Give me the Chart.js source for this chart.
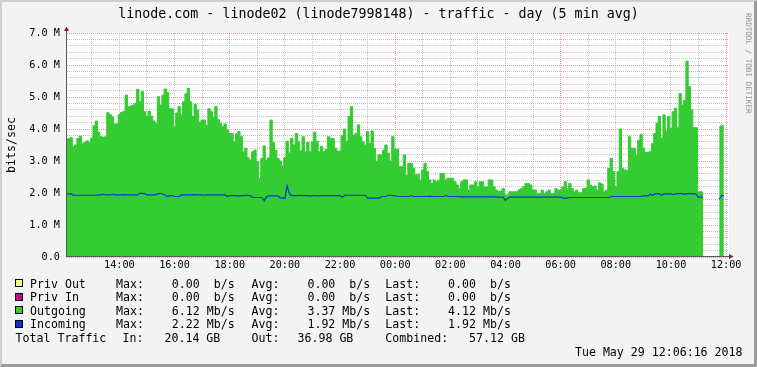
<!DOCTYPE html>
<html lang="en">
<head>
    <meta charset="UTF-8">
    <title>linode02 traffic - day</title>
    <script src="https://cdn.jsdelivr.net/npm/chart.js"></script>
    <style>
        body {
            margin: 0;
            background: #f3f3f3;
        }

        #wrap {
            position: relative;
            width: 757px;
            height: 367px;
            background: #f3f3f3;
            overflow: hidden;
        }

        #trafficChart {
            position: absolute;
            left: 0;
            top: 0;
        }

        .frame {
            position: absolute;
            left: 0;
            top: 0;
            width: 757px;
            height: 367px;
            box-sizing: border-box;
            border-style: solid;
            border-width: 2px 3px 3px 2px;
            border-color: #cfcfcf #9c9c9c #9c9c9c #cfcfcf;
            pointer-events: none;
        }

        .txt {
            position: absolute;
            font-family: "DejaVu Sans Mono", monospace;
            font-size: 11.6px;
            line-height: 14px;
            white-space: pre;
            color: #000;
        }

        .title {
            left: 0;
            width: 757px;
            top: 5.7px;
            text-align: center;
            font-size: 13.3px;
            line-height: 16px;
        }

        .ylabel {
            left: -29.5px;
            top: 138px;
            width: 80px;
            text-align: center;
            transform: rotate(-90deg);
        }

        .mark {
            left: 698px;
            top: 58px;
            width: 100px;
            text-align: center;
            font-size: 7.6px;
            line-height: 10px;
            color: #8e8e8e;
            transform: rotate(90deg);
        }

        .box {
            position: absolute;
            left: 15px;
            width: 8px;
            height: 8px;
            box-sizing: border-box;
            border: 1px solid #000;
        }
    </style>
</head>
<body>

<div id="wrap">
    <canvas id="trafficChart" width="757" height="367"></canvas>

    <div class="txt title">linode.com - linode02 (linode7998148) - traffic - day (5 min avg)</div>
    <div class="txt ylabel">bits/sec</div>
    <div class="txt mark">RRDTOOL / TOBI OETIKER</div>

    <div class="box" style="top:279px;background:#ffff99"></div>
    <div class="box" style="top:292.7px;background:#cc0099"></div>
    <div class="box" style="top:306.4px;background:#33cc33"></div>
    <div class="box" style="top:320px;background:#0033cc"></div>

    <div class="txt" style="left:30px;top:276.5px">Priv Out</div>
    <div class="txt" style="left:116px;top:276.5px">Max:    0.00  b/s</div>
    <div class="txt" style="left:251.6px;top:276.5px">Avg:    0.00  b/s</div>
    <div class="txt" style="left:385.3px;top:276.5px">Last:    0.00  b/s</div>

    <div class="txt" style="left:30px;top:290.2px">Priv In</div>
    <div class="txt" style="left:116px;top:290.2px">Max:    0.00  b/s</div>
    <div class="txt" style="left:251.6px;top:290.2px">Avg:    0.00  b/s</div>
    <div class="txt" style="left:385.3px;top:290.2px">Last:    0.00  b/s</div>

    <div class="txt" style="left:30px;top:303.8px">Outgoing</div>
    <div class="txt" style="left:116px;top:303.8px">Max:    6.12 Mb/s</div>
    <div class="txt" style="left:251.6px;top:303.8px">Avg:    3.37 Mb/s</div>
    <div class="txt" style="left:385.3px;top:303.8px">Last:    4.12 Mb/s</div>

    <div class="txt" style="left:30px;top:317.3px">Incoming</div>
    <div class="txt" style="left:116px;top:317.3px">Max:    2.22 Mb/s</div>
    <div class="txt" style="left:251.6px;top:317.3px">Avg:    1.92 Mb/s</div>
    <div class="txt" style="left:385.3px;top:317.3px">Last:    1.92 Mb/s</div>

    <div class="txt" style="left:15.6px;top:331.3px">Total Traffic</div>
    <div class="txt" style="left:122.6px;top:331.3px">In:   20.14 GB</div>
    <div class="txt" style="left:251.6px;top:331.3px">Out:</div>
    <div class="txt" style="left:297.5px;top:331.3px">36.98 GB</div>
    <div class="txt" style="left:385.3px;top:331.3px">Combined:   57.12 GB</div>

    <div class="txt" style="right:14.5px;top:344.8px">Tue May 29 12:06:16 2018</div>

    <div class="frame"></div>
</div>

<script>
    // 5 minute samples, first one at 12:05 the day before, values in Mb/s
    const sampleStart = 12 + 5 / 60;
    const sampleStep = 5 / 60;

    // graph window 12:06 -> 12:06:16 next day (hours since midnight of day one)
    const xMin = 12 + 6 / 60;
    const xMax = 36 + 6 / 60 + 16 / 3600;

    const outgoing = [
        3.66, 3.70, 3.73, 3.45, 3.50, 3.70, 3.78, 3.55, 3.58, 3.63,
        3.57, 3.71, 4.10, 4.25, 3.90, 3.76, 3.74, 3.76, 4.51, 4.45,
        4.38, 4.16, 4.16, 4.45, 4.52, 4.55, 5.06, 4.70, 4.72, 4.75,
        4.80, 5.24, 4.85, 5.17, 4.54, 4.39, 4.56, 4.40, 4.25, 4.18,
        5.01, 4.75, 5.06, 5.25, 5.14, 4.63, 4.63, 4.07, 4.50, 4.70,
        4.46, 4.85, 5.10, 5.27, 4.85, 4.39, 4.77, 4.60, 4.20, 4.28,
        4.28, 4.12, 4.63, 4.55, 4.36, 4.70, 4.30, 4.18, 4.07, 4.16,
        3.97, 3.86, 3.86, 3.60, 3.85, 3.92, 3.76, 3.30, 3.40, 3.10,
        3.03, 3.29, 3.34, 2.98, 2.46, 3.08, 3.47, 3.03, 3.10, 4.28,
        3.58, 3.34, 3.08, 3.00, 2.84, 3.10, 3.62, 3.26, 3.71, 3.50,
        3.86, 3.60, 3.31, 3.76, 3.29, 3.58, 3.29, 3.60, 3.90, 3.62,
        3.29, 3.45, 3.29, 3.36, 3.76, 3.71, 3.70, 3.40, 3.31, 3.31,
        3.80, 4.00, 3.62, 4.39, 4.70, 3.81, 3.86, 4.13, 3.76, 3.60,
        3.50, 3.92, 3.55, 3.94, 3.40, 2.98, 3.19, 3.19, 3.34, 3.50,
        3.24, 3.00, 3.76, 3.37, 3.37, 2.82, 2.82, 3.19, 2.56, 2.93,
        2.93, 2.77, 2.56, 2.59, 2.41, 2.72, 2.93, 2.67, 2.41, 2.30,
        2.41, 2.35, 2.40, 2.61, 2.61, 2.41, 2.46, 2.46, 2.46, 2.35,
        2.25, 2.14, 2.35, 2.41, 2.41, 2.09, 2.25, 2.25, 2.35, 2.19,
        2.35, 2.35, 2.19, 2.19, 2.41, 2.41, 2.19, 2.09, 2.06, 2.06,
        2.14, 1.94, 1.94, 2.04, 2.04, 2.04, 2.04, 2.10, 2.14, 2.20,
        2.30, 2.30, 2.25, 2.09, 2.09, 1.98, 1.98, 2.09, 1.98, 2.04,
        2.09, 1.98, 1.98, 2.14, 2.09, 2.09, 2.19, 2.35, 2.14, 2.30,
        2.14, 2.04, 2.09, 2.01, 2.01, 2.14, 2.14, 2.41, 2.25, 2.20,
        2.22, 2.09, 2.32, 2.28, 2.04, 2.09, 2.77, 3.08, 2.67, 2.20,
        2.67, 4.00, 2.77, 2.72, 2.70, 3.76, 3.40, 3.40, 3.19, 3.65,
        3.83, 3.40, 3.27, 3.27, 3.30, 3.55, 3.86, 4.18, 4.39, 3.71,
        4.44, 3.94, 4.39, 4.02, 4.54, 4.65, 4.04, 5.11, 4.75, 4.90,
        6.12, 5.33, 4.60, 4.04, 4.04, 2.04, 2.04, 2.02, null, null,
        null, null, null, null, 4.07, 4.10, 4.12, null
    ];

    const incoming = [
        1.97, 1.97, 1.97, 1.93, 1.93, 1.93, 1.93, 1.93, 1.93, 1.93,
        1.93, 1.93, 1.93, 1.93, 1.94, 1.94, 1.96, 1.94, 1.94, 1.94,
        1.96, 1.94, 1.94, 1.94, 1.94, 1.95, 1.94, 1.94, 1.94, 1.94,
        1.94, 1.94, 1.99, 1.99, 1.98, 1.94, 1.94, 1.94, 1.94, 1.95,
        1.98, 1.99, 1.96, 1.93, 1.89, 1.92, 1.92, 1.89, 1.89, 1.89,
        1.94, 1.94, 1.94, 1.94, 1.94, 1.95, 1.94, 1.94, 1.94, 1.94,
        1.93, 1.94, 1.94, 1.94, 1.94, 1.94, 1.94, 1.94, 1.94, 1.94,
        1.89, 1.92, 1.92, 1.92, 1.92, 1.90, 1.92, 1.92, 1.93, 1.92,
        1.92, 1.86, 1.86, 1.86, 1.86, 1.86, 1.76, 1.88, 1.91, 1.91,
        1.91, 1.91, 1.91, 1.85, 1.85, 1.83, 2.22, 1.97, 1.92, 1.92,
        1.92, 1.92, 1.93, 1.92, 1.92, 1.92, 1.90, 1.92, 1.92, 1.92,
        1.91, 1.92, 1.92, 1.92, 1.92, 1.92, 1.92, 1.92, 1.92, 1.92,
        1.87, 1.93, 1.93, 1.93, 1.93, 1.93, 1.93, 1.93, 1.93, 1.93,
        1.93, 1.84, 1.84, 1.84, 1.84, 1.84, 1.84, 1.89, 1.89, 1.89,
        1.93, 1.93, 1.92, 1.92, 1.89, 1.89, 1.89, 1.89, 1.89, 1.89,
        1.92, 1.89, 1.89, 1.89, 1.89, 1.89, 1.89, 1.89, 1.90, 1.89,
        1.89, 1.89, 1.89, 1.89, 1.89, 1.92, 1.89, 1.89, 1.89, 1.89,
        1.89, 1.88, 1.88, 1.88, 1.88, 1.88, 1.88, 1.88, 1.88, 1.88,
        1.88, 1.88, 1.88, 1.88, 1.88, 1.88, 1.88, 1.87, 1.87, 1.87,
        1.87, 1.77, 1.84, 1.88, 1.87, 1.87, 1.87, 1.87, 1.87, 1.87,
        1.87, 1.87, 1.87, 1.87, 1.87, 1.87, 1.87, 1.87, 1.87, 1.87,
        1.87, 1.87, 1.87, 1.87, 1.87, 1.87, 1.84, 1.84, 1.84, 1.86,
        1.86, 1.86, 1.86, 1.86, 1.86, 1.86, 1.86, 1.86, 1.86, 1.86,
        1.86, 1.86, 1.86, 1.86, 1.86, 1.86, 1.86, 1.89, 1.89, 1.89,
        1.89, 1.89, 1.89, 1.89, 1.89, 1.89, 1.89, 1.89, 1.89, 1.89,
        1.89, 1.91, 1.91, 1.91, 1.96, 1.93, 1.97, 1.97, 1.97, 1.93,
        1.97, 1.97, 1.97, 1.97, 1.95, 1.97, 1.98, 1.98, 1.98, 1.96,
        1.98, 1.98, 1.98, 1.98, 1.96, 1.87, 1.87, 1.87, null, null,
        null, null, null, null, 1.80, 1.92, 1.92, null
    ];

    // grid: a line every hour, label every 2 hours, red line every 6 hours
    const hourTicks = [13, 14, 15, 16, 17, 18, 19, 20, 21, 22, 23, 24,
                       25, 26, 27, 28, 29, 30, 31, 32, 33, 34, 35, 36];
    // y grid every 0.2 M, label every 1 M
    const yTicks = [0, 0.2, 0.4, 0.6, 0.8, 1, 1.2, 1.4, 1.6, 1.8, 2, 2.2, 2.4, 2.6, 2.8,
                    3, 3.2, 3.4, 3.6, 3.8, 4, 4.2, 4.4, 4.6, 4.8, 5, 5.2, 5.4, 5.6, 5.8,
                    6, 6.2, 6.4, 6.6, 6.8, 7];

    function toPoints(values) {
        return values.map((v, i) => ({ x: sampleStart + i * sampleStep, y: v }));
    }

    const gridGrey = 'rgba(175, 175, 175, 0.75)';
    const gridRed = 'rgba(225, 120, 120, 0.75)';
    const tickFont = { family: 'DejaVu Sans Mono', size: 10.2 };

    // white plot area, axis lines and arrow heads like rrdtool
    const rrdFrame = {
        id: 'rrdFrame',
        beforeDraw(chart) {
            const { ctx, chartArea: a } = chart;
            ctx.save();
            ctx.fillStyle = '#ffffff';
            ctx.fillRect(a.left, a.top, a.right - a.left, a.bottom - a.top);
            ctx.restore();
        },
        afterDatasetsDraw(chart) {
            const { ctx, chartArea: a } = chart;
            const x0 = a.left - 0.5;
            const y0 = a.bottom - 0.5;
            ctx.save();
            ctx.strokeStyle = '#5a5a5a';
            ctx.lineWidth = 1;
            ctx.beginPath();
            ctx.moveTo(x0, y0 + 0.5);
            ctx.lineTo(x0, a.top - 3);
            ctx.moveTo(x0 - 0.5, y0);
            ctx.lineTo(a.right + 1, y0);
            ctx.stroke();

            ctx.fillStyle = '#8b1e1e';
            ctx.beginPath();
            ctx.moveTo(x0 - 2.5, a.top - 2);
            ctx.lineTo(x0 + 2.5, a.top - 2);
            ctx.lineTo(x0, a.top - 6.5);
            ctx.closePath();
            ctx.fill();
            ctx.beginPath();
            ctx.moveTo(a.right, y0 - 2.5);
            ctx.lineTo(a.right, y0 + 2.5);
            ctx.lineTo(a.right + 4.5, y0);
            ctx.closePath();
            ctx.fill();
            ctx.restore();
        }
    };

    const ctx = document.getElementById('trafficChart').getContext('2d');
    const trafficChart = new Chart(ctx, {
        type: 'line',
        data: {
            datasets: [
                {
                    label: 'Outgoing',
                    data: toPoints(outgoing),
                    borderColor: '#33cc33',
                    backgroundColor: '#33cc33',
                    borderWidth: 1,
                    fill: 'origin',
                    stepped: 'middle',
                    pointRadius: 0,
                    order: 2
                },
                {
                    label: 'Incoming',
                    data: toPoints(incoming),
                    borderColor: '#0a36d6',
                    borderWidth: 1.2,
                    fill: false,
                    tension: 0,
                    pointRadius: 0,
                    order: 1
                }
            ]
        },
        options: {
            responsive: false,
            animation: false,
            events: [],
            layout: {
                padding: { left: 0, top: 33, right: 28, bottom: 0 }
            },
            plugins: {
                legend: { display: false },
                title: { display: false },
                tooltip: { enabled: false }
            },
            scales: {
                x: {
                    type: 'linear',
                    min: xMin,
                    max: xMax,
                    afterBuildTicks: scale => {
                        scale.ticks = hourTicks.map(h => ({ value: h }));
                    },
                    afterFit: scale => {
                        scale.height = 110;
                    },
                    ticks: {
                        autoSkip: false,
                        maxRotation: 0,
                        padding: 2,
                        color: '#000',
                        font: tickFont,
                        callback: value => {
                            if (value % 2 !== 0) return '';
                            const h = value % 24;
                            return (h < 10 ? '0' : '') + h + ':00';
                        }
                    },
                    grid: {
                        drawTicks: false,
                        lineWidth: 1,
                        color: c => (c.tick && c.tick.value % 6 === 0) ? gridRed : gridGrey
                    },
                    border: { display: false, dash: [1, 1] }
                },
                y: {
                    min: 0,
                    max: 7,
                    afterBuildTicks: scale => {
                        scale.ticks = yTicks.map(v => ({ value: v }));
                    },
                    afterFit: scale => {
                        scale.width = 67;
                    },
                    ticks: {
                        autoSkip: false,
                        padding: 7,
                        color: '#000',
                        font: tickFont,
                        callback: value => {
                            if (Math.abs(value - Math.round(value)) > 1e-6) return '';
                            return value === 0 ? '0.0' : value.toFixed(1) + ' M';
                        }
                    },
                    grid: {
                        drawTicks: false,
                        lineWidth: 1,
                        color: c => (c.tick && Math.abs(c.tick.value - Math.round(c.tick.value)) < 1e-6) ? gridRed : gridGrey
                    },
                    border: { display: false, dash: [1, 1] }
                }
            }
        },
        plugins: [rrdFrame]
    });
</script>

</body>
</html>
